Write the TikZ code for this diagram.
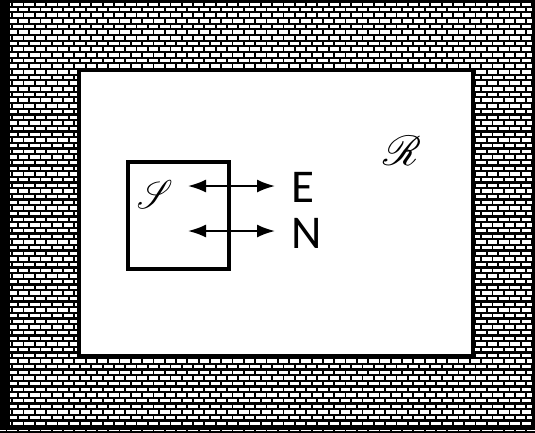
\documentclass[tikz,border=0pt]{standalone}
\usepackage{fontspec}
\usepackage{mathrsfs}
\setmainfont{Carlito}
\usetikzlibrary{arrows.meta}
\tikzset{
  mortar/.style={line width=2.2pt, black},
  frame/.style={draw=black, line width=4.5pt, fill=white},
  sysbox/.style={draw=black, line width=4pt, minimum width=101pt, minimum height=107pt, inner sep=0pt},
  flow/.style={line width=2pt, {Latex[length=18pt,width=13pt]}-{Latex[length=18pt,width=13pt]}},
  lbl/.style={font=\fontsize{47}{47}\selectfont, inner sep=0pt, anchor=west},
  scr/.style={inner sep=0pt}
}
\begin{document}
\begin{tikzpicture}[x=1pt,y=-1pt]
\useasboundingbox (0,0) rectangle (535,432);
% brick wall
\fill[white] (0,0) rectangle (535,432);
\foreach \r in {0,...,76}{
  \pgfmathsetmacro{\yy}{1+\r*5.67}
  \pgfmathsetmacro{\ph}{mod(\r,2)*5.65}
  \draw[mortar] (0,\yy) -- (535,\yy);
  \draw[black, line width=5.67pt, dash pattern=on 1.8pt off 9.5pt, dash phase=\ph pt]
    (0,\yy+2.835) -- (535,\yy+2.835);
}
% outer border
\draw[black, line width=3pt] (1.5,1.5) rectangle (533,428.5);
\fill[black] (2,0) rectangle (10,430);
% room
\node[frame, minimum width=394pt, minimum height=286pt, inner sep=0pt] (room) at (276,213) {};
\node[scr] (R) at (402,151) {\scalebox{4.2}{$\mathscr{R}$}};
% system
\node[sysbox] (sys) at (178.5,215.5) {};
\node[scr] (S) at (155,194) {\scalebox{3.4}[4.0]{$\mathscr{S}$}};
\coordinate (e1) at (188,186);
\coordinate (e2) at (275,186);
\coordinate (n1) at (188,231);
\coordinate (n2) at (275,231);
\draw[flow] (e1) -- (e2);
\draw[flow] (n1) -- (n2);
\node[lbl] (E) at (291,187.5) {E};
\node[lbl] (N) at (291,233) {N};
\end{tikzpicture}
\end{document}
